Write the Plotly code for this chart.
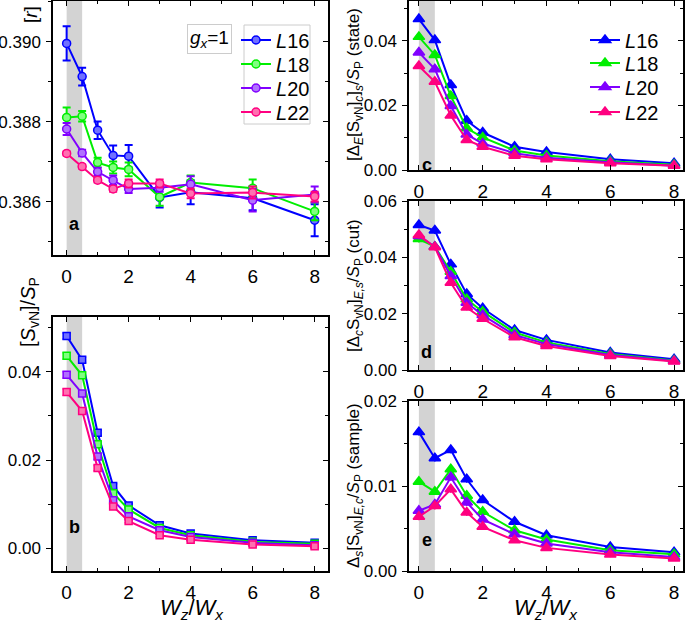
import plotly.graph_objects as go

# ---------------- data ----------------
wz = [0, 0.5, 1, 1.5, 2, 3, 4, 6, 8]
series_names = ["L16", "L18", "L20", "L22"]
colors = ["#0000FF", "#00EE00", "#8000FF", "#FF0080"]
light = ["#7070FF", "#80FF80", "#B070FF", "#FF70B0"]

# panel a : [r]
r_L16 = [0.38996, 0.38913, 0.38779, 0.38716, 0.38714, 0.38611, 0.38624, 0.38609, 0.38554]
r_L18 = [0.38811, 0.38814, 0.38698, 0.38686, 0.38681, 0.38612, 0.38648, 0.38634, 0.38576]
r_L20 = [0.38782, 0.38722, 0.38675, 0.38654, 0.38632, 0.38635, 0.38644, 0.38604, 0.38618]
r_L22 = [0.38721, 0.38688, 0.38654, 0.38632, 0.38646, 0.38646, 0.38621, 0.38623, 0.38613]
r_err_L16 = [0.00043, 0.00022, 0.00022, 0.00025, 0.00028, 0.00025, 0.00030, 0.00030, 0.00040]
r_err_L18 = [0.00025, 0.00013, 0.00012, 0.00015, 0.00017, 0.00022, 0.00018, 0.00022, 0.00022]
r_err_L20 = [0.00015, 0.00008, 0.00010, 0.00012, 0.00010, 0.00010, 0.00020, 0.00028, 0.00020]
r_err_L22 = [0.00005, 0.00005, 0.00006, 0.00007, 0.00010, 0.00010, 0.00012, 0.00015, 0.00012]

# panel b : [S_vN]/S_P
s_L16 = [0.0481, 0.0427, 0.0262, 0.01416, 0.00974, 0.00524, 0.00337, 0.00187, 0.00127]
s_L18 = [0.0436, 0.0392, 0.0236, 0.0125, 0.00884, 0.00464, 0.0030, 0.0015, 0.00105]
s_L20 = [0.0393, 0.0351, 0.0208, 0.0109, 0.00727, 0.00412, 0.00262, 0.00127, 0.00075]
s_L22 = [0.0354, 0.0311, 0.0182, 0.0095, 0.0062, 0.0030, 0.0020, 0.0009, 0.0005]
s_err = [0.0007, 0.0006, 0.0006, 0.0005, 0.0004, 0.0004, 0.0003, 0.0003, 0.0003]

# panel c : state fluctuation
c_L16 = [0.0467, 0.0402, 0.0263, 0.01526, 0.0116, 0.0072, 0.0056, 0.0033, 0.0021]
c_L18 = [0.0412, 0.0356, 0.0229, 0.0129, 0.0101, 0.0060, 0.0045, 0.0027, 0.0016]
c_L20 = [0.0364, 0.0312, 0.0198, 0.0110, 0.0082, 0.0052, 0.0038, 0.0024, 0.0013]
c_L22 = [0.0322, 0.0273, 0.0169, 0.0093, 0.0072, 0.0044, 0.0033, 0.0021, 0.0013]
c_err = [0.0006, 0.0006, 0.0006, 0.0005, 0.0005, 0.0004, 0.0004, 0.0003, 0.0003]

# panel d : cut fluctuation
d_L16 = [0.0515, 0.0495, 0.0375, 0.0270, 0.0219, 0.0142, 0.0107, 0.0062, 0.0038]
d_L18 = [0.0465, 0.0438, 0.0349, 0.0251, 0.0207, 0.0133, 0.0098, 0.0057, 0.0034]
d_L20 = [0.0476, 0.0438, 0.0334, 0.0239, 0.0195, 0.0124, 0.0092, 0.0053, 0.0032]
d_L22 = [0.0479, 0.0436, 0.0310, 0.0222, 0.0182, 0.0116, 0.0085, 0.0050, 0.0030]
d_err = [0.0012, 0.0012, 0.0011, 0.0010, 0.0009, 0.0008, 0.0008, 0.0007, 0.0006]

# panel e : sample fluctuation
e_L16 = [0.01634, 0.01327, 0.01425, 0.01079, 0.00835, 0.00579, 0.00421, 0.00283, 0.00220]
e_L18 = [0.01051, 0.00933, 0.01197, 0.00886, 0.00697, 0.00480, 0.00370, 0.00244, 0.00197]
e_L20 = [0.00709, 0.00783, 0.01102, 0.00807, 0.00606, 0.00433, 0.00323, 0.00220, 0.00165]
e_L22 = [0.00638, 0.00764, 0.00961, 0.00689, 0.00520, 0.00362, 0.00272, 0.00193, 0.00146]
e_err = [0.0004, 0.0004, 0.0004, 0.0004, 0.0003, 0.0003, 0.0003, 0.0003, 0.0002]

x_ticks = [0, 2, 4, 6, 8]
x_ticklabels = ["0", "2", "4", "6", "8"]

FONT = "Liberation Sans, Arial, sans-serif"
W, H = 685, 621

# one single-entry legend per series so that the row spacing can be set freely
legends_a = ["legend", "legend3", "legend4", "legend5"]
legends_c = ["legend2", "legend6", "legend7", "legend8"]
rows_a = [40, 64, 88, 112]
rows_c = [40, 63, 87, 112]

fig = go.Figure()

def add_series(vals, errs, xa, ya, symbol, size, legends=None, fill_light=True,
               ethick=2, ewidth=4):
    for i, (name, v) in enumerate(zip(series_names, vals)):
        e = errs[i] if isinstance(errs[0], list) else errs
        fig.add_trace(go.Scatter(
            x=wz, y=v, mode="lines+markers",
            name="<i>L</i>" + name[1:],
            xaxis=xa, yaxis=ya,
            line=dict(color=colors[i], width=2),
            marker=dict(symbol=symbol, size=size,
                        color=light[i] if fill_light else colors[i],
                        line=dict(color=colors[i], width=1.5)),
            error_y=dict(type="data", array=e, color=colors[i],
                         thickness=ethick, width=ewidth),
            showlegend=legends is not None,
            legend=legends[i] if legends else "legend",
        ))

add_series([r_L16, r_L18, r_L20, r_L22],
           [r_err_L16, r_err_L18, r_err_L20, r_err_L22],
           "x", "y", "circle", 8, legends=legends_a)
add_series([s_L16, s_L18, s_L20, s_L22], s_err, "x2", "y2", "square", 7,
           ethick=1.5, ewidth=4)
add_series([c_L16, c_L18, c_L20, c_L22], c_err, "x3", "y3", "triangle-up", 10,
           legends=legends_c, fill_light=False, ethick=1.5, ewidth=0)
add_series([d_L16, d_L18, d_L20, d_L22], d_err, "x4", "y4", "triangle-up", 10,
           fill_light=False, ethick=1.5, ewidth=0)
add_series([e_L16, e_L18, e_L20, e_L22], e_err, "x5", "y5", "triangle-up", 10,
           fill_light=False, ethick=1.5, ewidth=0)

# pixel layout of the five panels: (left, right, top, bottom)
panels = {
    1: (53, 328, 1, 255),
    2: (53, 328, 317, 571),
    3: (409, 683, 1, 170),
    4: (409, 683, 201, 370),
    5: (409, 683, 401, 571),
}
x_ranges = {1: [-0.44, 8.43], 2: [-0.44, 8.43], 3: [-0.31, 8.28],
            4: [-0.31, 8.28], 5: [-0.31, 8.28]}
y_ranges = {1: [0.38467, 0.39102], 2: [-0.0051, 0.0524], 3: [0, 0.0523],
            4: [0, 0.06], 5: [0, 0.02]}
y_dtick = {1: 0.002, 2: 0.02, 3: 0.02, 4: 0.02, 5: 0.01}
y_fmt = {1: ".3f", 2: ".2f", 3: ".2f", 4: ".2f", 5: ".2f"}

ytickfont = dict(family=FONT, size=17, color="black")
xtickfont = dict(family=FONT, size=19, color="black")
layout = {}
for k, (l, r, t, b) in panels.items():
    sx = "" if k == 1 else str(k)
    xd = [l / W, r / W]
    yd = [(H - b) / H, (H - t) / H]
    layout["xaxis" + sx] = dict(
        domain=xd, anchor="y" + sx, range=x_ranges[k],
        tickmode="array", tickvals=x_ticks, ticktext=x_ticklabels,
        ticks="inside", ticklen=5, tickwidth=1.3, tickcolor="black",
        minor=dict(tickmode="array", tickvals=[1, 3, 5, 7], ticks="inside",
                   ticklen=3, tickwidth=1.3, tickcolor="black"),
        showline=True, linecolor="black", linewidth=1.5, mirror="ticks",
        showgrid=False, zeroline=False, tickfont=xtickfont,
        ticklabelstandoff=3, automargin=False,
    )
    layout["yaxis" + sx] = dict(
        domain=yd, anchor="x" + sx, range=y_ranges[k],
        dtick=y_dtick[k], tick0=0, tickformat=y_fmt[k],
        ticks="outside", ticklen=5, tickwidth=1.3, tickcolor="black",
        minor=dict(dtick=y_dtick[k] / 2, tick0=0, ticks="outside", ticklen=3,
                   tickwidth=1.3, tickcolor="black"),
        showline=True, linecolor="black", linewidth=1.5, mirror=True,
        showgrid=False, zeroline=False, tickfont=ytickfont,
        ticklabelstandoff=2, automargin=False,
    )
    # right-hand overlay axis for inward ticks
    ov = str(k + 5)
    layout["yaxis" + ov] = dict(
        overlaying="y" + sx, anchor="x" + sx, side="right",
        range=y_ranges[k], dtick=y_dtick[k], tick0=0,
        ticks="inside", ticklen=5, tickwidth=1.3, tickcolor="black",
        minor=dict(dtick=y_dtick[k] / 2, tick0=0, ticks="inside", ticklen=3,
                   tickwidth=1.3, tickcolor="black"),
        showline=False, showgrid=False, zeroline=False, showticklabels=False,
        automargin=False,
    )
    fig.add_trace(go.Scatter(x=[None], y=[None], xaxis="x" + sx, yaxis="y" + ov,
                             showlegend=False, hoverinfo="skip"))

shapes = []
for k in panels:
    sx = "" if k == 1 else str(k)
    shapes.append(dict(type="rect", xref="x" + sx, yref="y" + sx + " domain",
                       x0=0, x1=0.5, y0=0, y1=1, fillcolor="#D3D3D3",
                       line=dict(width=0), layer="below"))
# legend frame in panel a
shapes.append(dict(type="rect", xref="paper", yref="paper",
                   x0=244 / W, x1=310 / W, y0=(H - 124) / H, y1=(H - 25) / H,
                   line=dict(color="#CCCCCC", width=1), fillcolor="rgba(0,0,0,0)"))

annotations = []
def ann_px(text, x, y, size, xanchor="center", yanchor="middle", angle=0, **kw):
    annotations.append(dict(text=text, x=x / W, y=(H - y) / H, xref="paper",
                            yref="paper", showarrow=False, xanchor=xanchor,
                            yanchor=yanchor, textangle=angle,
                            font=dict(family=FONT, size=size, color="black"), **kw))

# panel letters
for k, (lab, ypx) in {1: ("a", 224), 2: ("b", 539), 3: ("c", 153),
                      4: ("d", 352), 5: ("e", 552)}.items():
    sx = "" if k == 1 else str(k)
    annotations.append(dict(text="<b>%s</b>" % lab, x=0.25, xref="x" + sx,
                            y=(H - ypx) / H, yref="paper", showarrow=False,
                            font=dict(family=FONT, size=18, color="black")))

ann_px("[<i>r</i>]", 31, 15, 19, angle=-90)
ann_px("[<i>S</i><sub>vN</sub>]/<i>S</i><sub>P</sub>", 29, 312, 20, angle=-90)
ann_px("[Δ<sub><i>E</i></sub>[S<sub>vN</sub>]<sub><i>c</i></sub>]<sub><i>s</i></sub>/<i>S</i><sub>P</sub> (state)",
       355, 85, 17, angle=-90)
ann_px("[Δ<sub><i>c</i></sub>S<sub>vN</sub>]<sub><i>E,s</i></sub>/<i>S</i><sub>P</sub> (cut)",
       355, 286, 17, angle=-90)
ann_px("Δ<sub><i>s</i></sub>[S<sub>vN</sub>]<sub><i>E,c</i></sub>/<i>S</i><sub>P</sub> (sample)",
       355, 486, 17, angle=-90)
ann_px("<i>W</i><sub><i>z</i></sub>/<i>W</i><sub><i>x</i></sub>", 192, 609, 22)
ann_px("<i>W</i><sub><i>z</i></sub>/<i>W</i><sub><i>x</i></sub>", 546, 609, 22)
ann_px("<i>g</i><sub><i>x</i></sub>=1", 209, 39, 19, bordercolor="#CCCCCC",
       borderwidth=1, borderpad=2)

legend_font = dict(family=FONT, size=20, color="black")
legend_layout = {}
for name, row in zip(legends_a, rows_a):
    legend_layout[name] = dict(x=236 / W, y=(H - row) / H, xanchor="left",
                               yanchor="middle", font=legend_font,
                               bgcolor="rgba(0,0,0,0)", itemwidth=30)
for name, row in zip(legends_c, rows_c):
    legend_layout[name] = dict(x=585 / W, y=(H - row) / H, xanchor="left",
                               yanchor="middle", font=legend_font,
                               bgcolor="rgba(0,0,0,0)", itemwidth=30)

fig.update_layout(
    width=W, height=H, margin=dict(l=0, r=0, t=0, b=0, pad=0, autoexpand=False),
    paper_bgcolor="white", plot_bgcolor="rgba(0,0,0,0)",
    showlegend=True,
    shapes=shapes, annotations=annotations,
    **legend_layout,
    **layout,
)

# place the figure at the page's top-left corner (no default body margin)
post = ("document.body.style.margin='0';document.body.style.padding='0';"
        "var gd=document.getElementById('{plot_id}');"
        "gd.style.position='absolute';gd.style.left='0px';gd.style.top='0px';")
fig.write_html("out.html", post_script=post, config={"displayModeBar": False})
